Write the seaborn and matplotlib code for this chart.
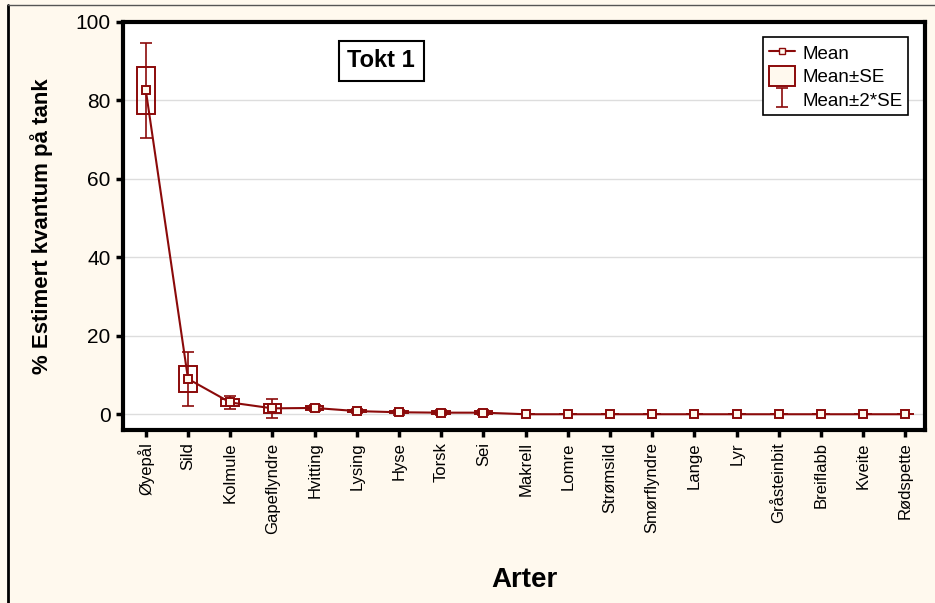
import numpy as np
import pandas as pd
import matplotlib.pyplot as plt
import seaborn as sns
from matplotlib.lines import Line2D
from matplotlib.patches import Patch

# DATA
arter = ["Øyepål", "Sild", "Kolmule", "Gapeflyndre", "Hvitting", "Lysing", "Hyse",
         "Torsk", "Sei", "Makrell", "Lomre", "Strømsild", "Smørflyndre", "Lange",
         "Lyr", "Gråsteinbit", "Breiflabb", "Kveite", "Rødspette"]
mean = [82.5, 9.0, 3.0, 1.5, 1.6, 0.8, 0.5, 0.4, 0.4, 0.0, 0.0, 0.0, 0.0, 0.0, 0.0, 0.0, 0.0, 0.0, 0.0]
se = [6.0, 3.4, 0.8, 1.2, 0.4, 0.3, 0.3, 0.3, 0.3, 0.0, 0.0, 0.0, 0.0, 0.0, 0.0, 0.0, 0.0, 0.0, 0.0]

df = pd.DataFrame({"art": arter, "mean": mean, "se": se})
df["x"] = np.arange(len(df))

# CONFIG
sns.set_style("whitegrid")
plt.rcParams["font.family"] = ["Liberation Sans", "DejaVu Sans"]
plt.rcParams["text.color"] = "black"
plt.rcParams["axes.labelcolor"] = "black"
plt.rcParams["xtick.color"] = "black"
plt.rcParams["ytick.color"] = "black"
red = "#8B0A0A"
bg = "#FFF9EE"

fig = plt.figure(figsize=(9.35, 6.03), dpi=100, facecolor=bg)
ax = fig.add_axes([0.1316, 0.287, 0.858, 0.677])
ax.set_facecolor("white")

# SE boxes
ax.bar(df["x"], 2 * df["se"], bottom=df["mean"] - df["se"], width=0.42,
       fill=False, edgecolor=red, linewidth=1.4, zorder=3)
# 2*SE whiskers
eb = ax.errorbar(df["x"], df["mean"], yerr=2 * df["se"], fmt="none", ecolor=red,
                 elinewidth=1.2, capsize=4, capthick=1.2, zorder=3)
# mean line
sns.lineplot(data=df, x="x", y="mean", color=red, marker="s", markersize=5.5,
             markerfacecolor=bg, markeredgecolor=red, markeredgewidth=1.4,
             linewidth=1.5, ax=ax, zorder=4)

ax.set_xlim(-0.54, len(df) - 0.53)
ax.set_ylim(-4, 100)
ax.set_yticks([0, 20, 40, 60, 80, 100])
ax.set_xticks(df["x"])
ax.set_xticklabels(df["art"], rotation=90, fontsize=12)
ax.tick_params(axis="y", labelsize=15)
ax.tick_params(axis="both", direction="out", length=5, width=2.5, color="black",
               labelcolor="black", left=True, bottom=True, pad=4)
ax.grid(axis="x", visible=False)
ax.grid(axis="y", color="#DDDDDD", linewidth=1)
for s in ax.spines.values():
    s.set_color("black")
    s.set_linewidth(3)

ax.set_xlabel("Arter", fontsize=20, fontweight="bold", va="center")
ax.xaxis.set_label_coords(0.5, -0.368)
ax.set_ylabel("% Estimert kvantum på tank", fontsize=16, fontweight="bold", labelpad=16)

ax.text(0.322, 0.904, "Tokt 1", transform=ax.transAxes, fontsize=17, fontweight="bold",
        ha="center", va="center",
        bbox=dict(boxstyle="square,pad=0.35", facecolor="white", edgecolor="black", linewidth=1.5))

handles = [
    Line2D([0], [0], color=red, marker="s", markersize=5, markerfacecolor=bg,
           markeredgecolor=red, linewidth=1.5),
    Patch(facecolor=bg, edgecolor=red, linewidth=1.4),
    eb,
]
leg = ax.legend(handles, ["Mean", "Mean±SE", "Mean±2*SE"], loc="upper right",
                bbox_to_anchor=(0.979, 0.963), borderaxespad=0, fontsize=13.5,
                fancybox=False, framealpha=1, edgecolor="black",
                handlelength=1.4, handleheight=1.3, handletextpad=0.4, labelspacing=0.15,
                borderpad=0.3)
leg.get_frame().set_linewidth(1.2)

# outer frame
fig.add_artist(Line2D([0.009, 0.009], [0, 0.992], transform=fig.transFigure, color="black", linewidth=2))
fig.add_artist(Line2D([0.009, 1.0], [0.992, 0.992], transform=fig.transFigure, color="#555555", linewidth=1))

fig.savefig("out.png", dpi=100, facecolor=bg)
